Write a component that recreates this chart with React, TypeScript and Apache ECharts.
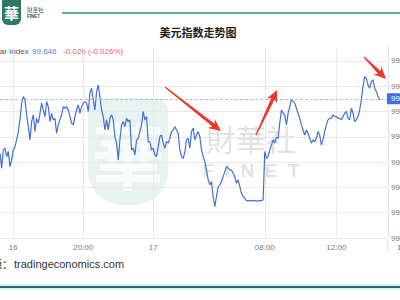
import React, { useEffect, useRef } from "react";
import * as echarts from "echarts";

// Dollar index, intraday prints (one slot per sample)
const dxyValues = [
  99.435, 99.376, 99.448, 99.455, 99.422, 99.442, 99.382, 99.409, 99.448, 99.461,
  99.488, 99.521, 99.567, 99.633, 99.659, 99.646, 99.587, 99.540, 99.488, 99.560,
  99.587, 99.521, 99.573, 99.554, 99.593, 99.633, 99.606, 99.580, 99.639, 99.619,
  99.560, 99.593, 99.567, 99.573, 99.514, 99.547, 99.567, 99.587, 99.619, 99.613,
  99.619, 99.606, 99.580, 99.554, 99.547, 99.580, 99.606, 99.626, 99.593, 99.619,
  99.633, 99.639, 99.633, 99.600, 99.672, 99.692, 99.646, 99.606, 99.679, 99.705,
  99.659, 99.606, 99.580, 99.527, 99.567, 99.527, 99.573, 99.587, 99.567, 99.501,
  99.475, 99.409, 99.488, 99.547, 99.560, 99.540, 99.573, 99.560, 99.567, 99.448,
  99.455, 99.428, 99.488, 99.494, 99.521, 99.547, 99.600, 99.567, 99.580, 99.481,
  99.481, 99.448, 99.455, 99.428, 99.422, 99.461, 99.501, 99.507, 99.475, 99.455,
  99.481, 99.475, 99.494, 99.521, 99.527, 99.540, 99.527, 99.514, 99.448, 99.422,
  99.415, 99.440, 99.488, 99.494, 99.455, 99.521, 99.534, 99.488, 99.507, 99.521,
  99.501, 99.448, 99.422, 99.402, 99.369, 99.330, 99.310, 99.323, 99.264, 99.224,
  99.264, 99.303, 99.310, 99.323, 99.343, 99.362, 99.382, 99.376, 99.369, 99.369,
  99.356, 99.343, 99.316, 99.330, 99.303, 99.277, 99.264, 99.257, 99.248, 99.248,
  99.247, 99.249, 99.247, 99.248, 99.245, 99.248, 99.247, 99.249, 99.250, 99.442,
  99.415, 99.422, 99.448, 99.468, 99.488, 99.475, 99.498, 99.494, 99.554, 99.606,
  99.593, 99.587, 99.547, 99.593, 99.619, 99.646, 99.639, 99.633, 99.613, 99.593,
  99.573, 99.547, 99.527, 99.507, 99.527, 99.514, 99.494, 99.475, 99.488, 99.481,
  99.494, 99.521, 99.507, 99.468, 99.488, 99.521, 99.547, 99.567, 99.573, 99.573,
  99.587, 99.580, 99.580, 99.573, 99.573, 99.567, 99.580, 99.593, 99.600, 99.573,
  99.567, 99.613, 99.593, 99.560, 99.567, 99.580, 99.606, 99.646, 99.699, 99.738,
  99.731, 99.705, 99.692, 99.718, 99.725, 99.692, 99.679, 99.659, 99.646,
];

// Session slots on the time axis and the labelled ones
const slotCount = 234;
const tickSlots = [8, 50, 92, 159, 202, 233];
const tickLabels = ["16", "20:00", "17", "08:00", "12:00", "16:00"];

// Quote header
const quoteName = "Dollar Index";
const lastPrice = 99.646;
const changeText = "-0.026 (-0.026%)";

// Price axis
const yMin = 99.1;
const yMax = 99.855;
const yStep = 0.1;

const LINE_BLUE = "#4470d6";
const ARROW_RED = "#e8392c";

function arrowPoints(x1: number, y1: number, x2: number, y2: number) {
  const headLen = 12;
  const headW = 11;
  const tailW = 1.2;
  const neckW = 3.6;
  const dx = x2 - x1;
  const dy = y2 - y1;
  const L = Math.hypot(dx, dy);
  const ux = dx / L;
  const uy = dy / L;
  const nx = -uy;
  const ny = ux;
  const bx = x2 - ux * headLen;
  const by = y2 - uy * headLen;
  const nbx = x2 - ux * headLen * 0.8;
  const nby = y2 - uy * headLen * 0.8;
  return [
    [x1 + (nx * tailW) / 2, y1 + (ny * tailW) / 2],
    [nbx + (nx * neckW) / 2, nby + (ny * neckW) / 2],
    [bx + (nx * headW) / 2, by + (ny * headW) / 2],
    [x2, y2],
    [bx - (nx * headW) / 2, by - (ny * headW) / 2],
    [nbx - (nx * neckW) / 2, nby - (ny * neckW) / 2],
    [x1 - (nx * tailW) / 2, y1 - (ny * tailW) / 2],
  ];
}

export default function App() {
  const ref = useRef<HTMLDivElement>(null);

  useEffect(() => {
    if (!ref.current) return;
    const chart = echarts.init(ref.current, null, { renderer: "svg" });
    const slots = Array.from({ length: slotCount }, (_, i) => String(i));
    const isTick = (idx: number) => tickSlots.includes(idx);
    const lastSlot = tickSlots[tickSlots.length - 1];
    const cjk = "'Noto Sans CJK SC', sans-serif";
    const latin = "'Liberation Sans', Arial, sans-serif";

    chart.setOption({
      animation: false,
      backgroundColor: "#ffffff",
      grid: {
        left: 0,
        right: 12,
        top: 47,
        bottom: 62,
        containLabel: false,
        outerBoundsMode: "none",
      },
      xAxis: {
        type: "category",
        data: slots,
        boundaryGap: false,
        axisLine: { show: false },
        axisTick: { show: false },
        axisLabel: {
          interval: (idx: number) => isTick(idx),
          formatter: (_v: string, idx: number) => {
            const k = tickSlots.indexOf(idx);
            if (k < 0) return "";
            return idx === lastSlot ? `{last|${tickLabels[k]}}` : tickLabels[k];
          },
          color: "#777",
          fontSize: 8,
          fontFamily: latin,
          margin: 5,
          rich: {
            last: { fontSize: 8, color: "#777", fontFamily: latin, padding: [0, 0, 0, 38] },
          },
        },
        splitLine: {
          show: true,
          interval: (idx: number) => isTick(idx) && idx !== lastSlot,
          lineStyle: { color: "#e9e9e9", width: 1 },
        },
      },
      yAxis: {
        type: "value",
        position: "right",
        min: yMin,
        max: yMax,
        interval: yStep,
        axisLine: { show: true, lineStyle: { color: "#e4e4e4" } },
        axisTick: { show: false },
        axisLabel: {
          showMaxLabel: false,
          formatter: (v: number) => v.toFixed(2),
          color: "#777",
          fontSize: 8,
          fontFamily: latin,
          margin: 3,
        },
        splitLine: {
          show: true,
          showMaxLine: false,
          lineStyle: { color: "#e9e9e9", width: 1 },
        },
      },
      series: [
        {
          type: "line",
          data: dxyValues,
          symbol: "none",
          z: 3,
          lineStyle: { color: LINE_BLUE, width: 1.2 },
          markLine: {
            silent: true,
            symbol: "none",
            lineStyle: { color: "#a9c0ec", type: [3, 2], width: 1 },
            label: {
              show: true,
              position: "end",
              distance: -1,
              formatter: lastPrice.toFixed(3),
              color: "#ffffff",
              backgroundColor: "#3f6fe0",
              fontSize: 8,
              fontFamily: latin,
              padding: [2, 4, 1, 4],
            },
            data: [{ yAxis: lastPrice }],
          },
        },
      ],
      graphic: [
        // pale logo watermark behind the plot
        {
          type: "rect",
          z: -1,
          shape: { x: 88, y: 98, width: 80, height: 107, r: [14, 14, 34, 34] },
          style: { fill: "rgba(150,196,190,0.22)" },
        },
        {
          type: "text",
          z: -1,
          x: 128,
          y: 152,
          style: {
            text: "華",
            fill: "rgba(255,255,255,0.75)",
            font: `bold 72px ${cjk}`,
            align: "center",
            verticalAlign: "middle",
          },
        },
        {
          type: "text",
          z: -1,
          x: 251,
          y: 138,
          style: {
            text: "財華社",
            fill: "rgba(185,185,185,0.42)",
            font: `30px ${cjk}`,
            align: "center",
            verticalAlign: "middle",
          },
        },
        {
          type: "text",
          z: -1,
          x: 251,
          y: 170,
          style: {
            text: "F  I  N  E  T",
            fill: "rgba(185,185,185,0.42)",
            font: `bold 19px ${latin}`,
            align: "center",
            verticalAlign: "middle",
          },
        },
        // brand block
        {
          type: "rect",
          shape: { x: 2, y: -6, width: 19, height: 31, r: [0, 0, 6, 6] },
          style: { fill: "#2c7a66" },
        },
        {
          type: "text",
          x: 11.5,
          y: 12,
          style: {
            text: "華",
            fill: "#ffffff",
            font: `bold 15px ${cjk}`,
            align: "center",
            verticalAlign: "middle",
          },
        },
        {
          type: "text",
          x: 27,
          y: 10,
          style: { text: "財華社", fill: "#2f4f4c", font: `5.5px ${cjk}`, verticalAlign: "middle" },
        },
        {
          type: "text",
          x: 27,
          y: 16,
          style: { text: "FINET", fill: "#2f4f4c", font: `bold 4.5px ${latin}`, verticalAlign: "middle" },
        },
        {
          type: "line",
          shape: { x1: 62, y1: 13, x2: 400, y2: 13 },
          style: { stroke: "#3a8d89", lineWidth: 1.5 },
        },
        // title
        {
          type: "text",
          x: 198,
          y: 32,
          style: {
            text: "美元指数走势图",
            fill: "#222",
            font: `bold 11px ${cjk}`,
            align: "center",
            verticalAlign: "middle",
          },
        },
        // quote header
        {
          type: "text",
          x: -14,
          y: 51,
          style: {
            text: `{n|${quoteName}} {p|${lastPrice.toFixed(3)}}  {c|${changeText}}`,
            verticalAlign: "middle",
            rich: {
              n: { fill: "#555", font: `8px ${latin}` },
              p: { fill: "#5b80d8", font: `8px ${latin}` },
              c: { fill: "#e06464", font: `8px ${latin}` },
            },
          },
        },
        // right frame runs below the axis
        {
          type: "line",
          shape: { x1: 387.5, y1: 238, x2: 387.5, y2: 252 },
          style: { stroke: "#e4e4e4", lineWidth: 1 },
        },
        // annotation arrows
        {
          type: "polygon",
          z: 10,
          shape: { points: arrowPoints(165, 87, 221, 131) },
          style: { fill: ARROW_RED },
        },
        {
          type: "polygon",
          z: 10,
          shape: { points: arrowPoints(256, 135, 277, 90) },
          style: { fill: ARROW_RED },
        },
        {
          type: "polygon",
          z: 10,
          shape: { points: arrowPoints(364, 57, 386, 79) },
          style: { fill: ARROW_RED },
        },
        // source line
        {
          type: "text",
          x: 13,
          y: 264,
          style: { text: "来源：", fill: "#333", font: `11px ${cjk}`, align: "right", verticalAlign: "middle" },
        },
        {
          type: "text",
          x: 14,
          y: 264,
          style: { text: "tradingeconomics.com", fill: "#333", font: `11px ${latin}`, verticalAlign: "middle" },
        },
        // footer rule
        {
          type: "rect",
          shape: { x: 0, y: 284, width: 400, height: 6 },
          style: { fill: "#dcf1ef" },
        },
        {
          type: "rect",
          shape: { x: 0, y: 286, width: 400, height: 2 },
          style: { fill: "#226e70" },
        },
      ],
    });

    return () => chart.dispose();
  }, []);

  return (
    <div
      ref={ref}
      style={{ position: "fixed", left: 0, top: 0, width: 400, height: 300, background: "#fff" }}
    />
  );
}
